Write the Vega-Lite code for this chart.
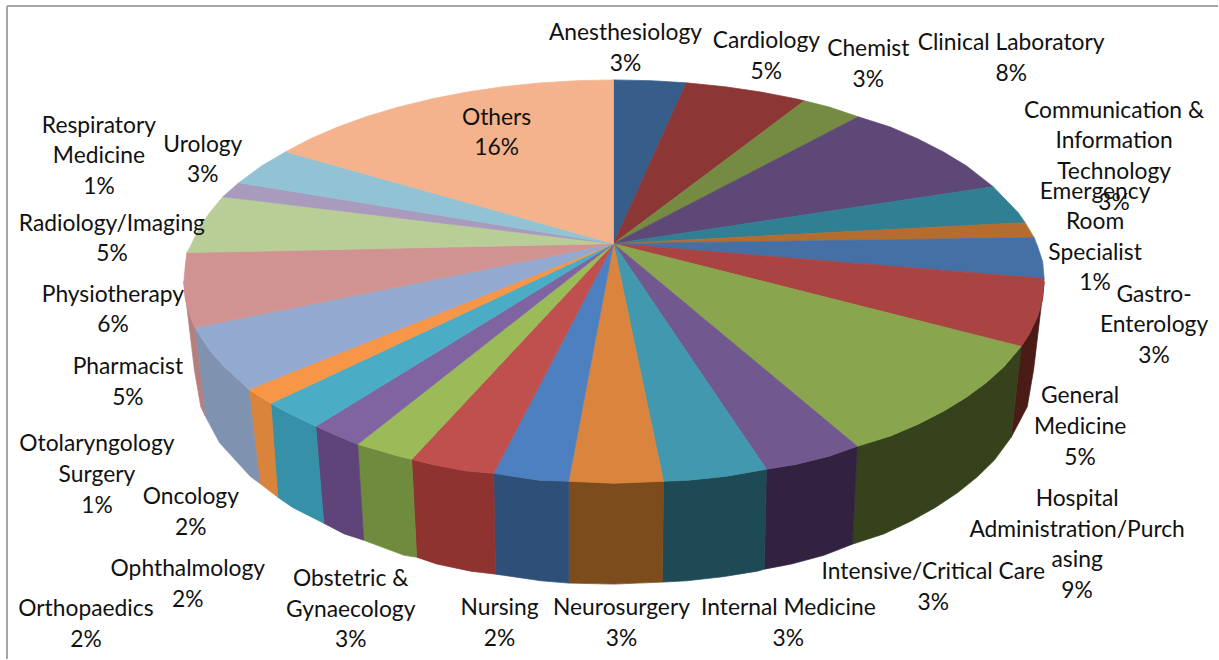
{
"$schema":"https://vega.github.io/schema/vega-lite/v6.json",
"width":1219,"height":660,"padding":0,"autosize":{"type":"fit","contains":"padding"},
"background":"white","config":{"view":{"stroke":null}},
"datasets":{
"frame":[{"x":7,"y":6,"x2":1219,"y2":6},{"x":7,"y":6,"x2":7,"y2":660}],
"side":[
{"s":"General Medicine","x":1045,"y":282},{"s":"General Medicine","x":1043.4,"y":299.6},{"s":"General Medicine","x":1038.5,"y":317.1},{"s":"General Medicine","x":1030.3,"y":334.3},{"s":"General Medicine","x":1022,"y":347},{"s":"General Medicine","x":1012,"y":438},{"s":"General Medicine","x":1028.1,"y":407.3},{"s":"General Medicine","x":1034.5,"y":370},
{"s":"Hospital","x":1022,"y":347},{"s":"Hospital","x":1004.7,"y":367.4},{"s":"Hospital","x":987.3,"y":383},{"s":"Hospital","x":967.2,"y":397.9},{"s":"Hospital","x":944.3,"y":411.8},{"s":"Hospital","x":918.9,"y":424.8},{"s":"Hospital","x":891.2,"y":436.7},{"s":"Hospital","x":858,"y":447},{"s":"Hospital","x":853,"y":545},{"s":"Hospital","x":884.5,"y":534.7},{"s":"Hospital","x":911.5,"y":522},{"s":"Hospital","x":936.2,"y":508.2},{"s":"Hospital","x":958.6,"y":493.3},{"s":"Hospital","x":978.2,"y":477.5},{"s":"Hospital","x":995.1,"y":460.9},{"s":"Hospital","x":1012,"y":438},
{"s":"Intensive","x":858,"y":447},{"s":"Intensive","x":829.8,"y":456.9},{"s":"Intensive","x":796.4,"y":465.1},{"s":"Intensive","x":767,"y":470},{"s":"Intensive","x":765,"y":570},{"s":"Intensive","x":792,"y":564.9},{"s":"Intensive","x":824.5,"y":556.2},{"s":"Intensive","x":853,"y":545},
{"s":"Internal","x":767,"y":470},{"s":"Internal","x":725.9,"y":477.1},{"s":"Internal","x":689.3,"y":480.9},{"s":"Internal","x":664,"y":482},{"s":"Internal","x":663,"y":583},{"s":"Internal","x":687.4,"y":581.7},{"s":"Internal","x":723.2,"y":577.7},{"s":"Internal","x":758.1,"y":572},{"s":"Internal","x":765,"y":570},
{"s":"Neurosurgery","x":664,"y":482},{"s":"Neurosurgery","x":614.5,"y":484},{"s":"Neurosurgery","x":569,"y":482},{"s":"Neurosurgery","x":569,"y":584},{"s":"Neurosurgery","x":614.5,"y":585},{"s":"Neurosurgery","x":663,"y":583},
{"s":"Nursing","x":569,"y":482},{"s":"Nursing","x":539.7,"y":480.9},{"s":"Nursing","x":494,"y":474},{"s":"Nursing","x":496,"y":575},{"s":"Nursing","x":541.6,"y":581.7},{"s":"Nursing","x":569,"y":584},
{"s":"Obstetric","x":494,"y":474},{"s":"Obstetric","x":467.3,"y":471.8},{"s":"Obstetric","x":432.6,"y":465.1},{"s":"Obstetric","x":412,"y":460},{"s":"Obstetric","x":417,"y":558},{"s":"Obstetric","x":437,"y":564.9},{"s":"Obstetric","x":470.9,"y":572},{"s":"Obstetric","x":496,"y":575},
{"s":"Oncology","x":412,"y":460},{"s":"Oncology","x":399.2,"y":456.9},{"s":"Oncology","x":358,"y":445},{"s":"Oncology","x":364,"y":541},{"s":"Oncology","x":404.5,"y":556.2},{"s":"Oncology","x":417,"y":558},
{"s":"Ophthalmology","x":358,"y":445},{"s":"Ophthalmology","x":337.8,"y":436.7},{"s":"Ophthalmology","x":316,"y":427},{"s":"Ophthalmology","x":324,"y":524},{"s":"Ophthalmology","x":344.5,"y":534.7},{"s":"Ophthalmology","x":364,"y":541},
{"s":"Orthopaedics","x":316,"y":427},{"s":"Orthopaedics","x":284.7,"y":411.8},{"s":"Orthopaedics","x":271,"y":404},{"s":"Orthopaedics","x":278,"y":498},{"s":"Orthopaedics","x":292.8,"y":508.2},{"s":"Orthopaedics","x":324,"y":524},
{"s":"Otolaryngology","x":271,"y":404},{"s":"Otolaryngology","x":249,"y":390},{"s":"Otolaryngology","x":260,"y":484},{"s":"Otolaryngology","x":278,"y":498},
{"s":"Pharmacist","x":249,"y":390},{"s":"Pharmacist","x":241.7,"y":383},{"s":"Pharmacist","x":224.3,"y":367.4},{"s":"Pharmacist","x":210,"y":351.1},{"s":"Pharmacist","x":195,"y":328},{"s":"Pharmacist","x":205,"y":416},{"s":"Pharmacist","x":219.8,"y":443.5},{"s":"Pharmacist","x":250.8,"y":477.5},{"s":"Pharmacist","x":260,"y":484},
{"s":"Physiotherapy","x":195,"y":328},{"s":"Physiotherapy","x":190.5,"y":317.1},{"s":"Physiotherapy","x":185.6,"y":299.6},{"s":"Physiotherapy","x":184,"y":282},{"s":"Physiotherapy","x":194.5,"y":370},{"s":"Physiotherapy","x":200.9,"y":407.3},{"s":"Physiotherapy","x":205,"y":416}
],
"top":[
{"s":"Anesthesiology","x":614,"y":244},{"s":"Anesthesiology","x":614,"y":80},{"s":"Anesthesiology","x":652,"y":80.8},{"s":"Anesthesiology","x":687,"y":83},
{"s":"Cardiology","x":614,"y":244},{"s":"Cardiology","x":687,"y":83},{"s":"Cardiology","x":725.9,"y":86.9},{"s":"Cardiology","x":761.7,"y":92.2},{"s":"Cardiology","x":796.4,"y":98.9},{"s":"Cardiology","x":805,"y":101},
{"s":"Chemist","x":614,"y":244},{"s":"Chemist","x":805,"y":101},{"s":"Chemist","x":829.8,"y":107.1},{"s":"Chemist","x":859,"y":117},
{"s":"Clinical","x":614,"y":244},{"s":"Clinical","x":859,"y":117},{"s":"Clinical","x":891.2,"y":127.3},{"s":"Clinical","x":918.9,"y":139.2},{"s":"Clinical","x":944.3,"y":152.2},{"s":"Clinical","x":967.2,"y":166.1},{"s":"Clinical","x":994,"y":187},
{"s":"Communication","x":614,"y":244},{"s":"Communication","x":994,"y":187},{"s":"Communication","x":1019,"y":212.9},{"s":"Communication","x":1026,"y":223},
{"s":"Emergency","x":614,"y":244},{"s":"Emergency","x":1026,"y":223},{"s":"Emergency","x":1035,"y":238},
{"s":"Gastro","x":614,"y":244},{"s":"Gastro","x":1035,"y":238},{"s":"Gastro","x":1038.5,"y":246.9},{"s":"Gastro","x":1043.5,"y":262},{"s":"Gastro","x":1045,"y":279},
{"s":"General Medicine","x":614,"y":244},{"s":"General Medicine","x":1045,"y":279},{"s":"General Medicine","x":1043.4,"y":299.6},{"s":"General Medicine","x":1038.5,"y":317.1},{"s":"General Medicine","x":1030.3,"y":334.3},{"s":"General Medicine","x":1022,"y":347},
{"s":"Hospital","x":614,"y":244},{"s":"Hospital","x":1022,"y":347},{"s":"Hospital","x":1004.7,"y":367.4},{"s":"Hospital","x":987.3,"y":383},{"s":"Hospital","x":967.2,"y":397.9},{"s":"Hospital","x":944.3,"y":411.8},{"s":"Hospital","x":918.9,"y":424.8},{"s":"Hospital","x":891.2,"y":436.7},{"s":"Hospital","x":858,"y":447},
{"s":"Intensive","x":614,"y":244},{"s":"Intensive","x":858,"y":447},{"s":"Intensive","x":829.8,"y":456.9},{"s":"Intensive","x":796.4,"y":465.1},{"s":"Intensive","x":767,"y":470},
{"s":"Internal","x":614,"y":244},{"s":"Internal","x":767,"y":470},{"s":"Internal","x":725.9,"y":477.1},{"s":"Internal","x":689.3,"y":480.9},{"s":"Internal","x":664,"y":482},
{"s":"Neurosurgery","x":614,"y":244},{"s":"Neurosurgery","x":664,"y":482},{"s":"Neurosurgery","x":614.5,"y":484},{"s":"Neurosurgery","x":569,"y":482},
{"s":"Nursing","x":614,"y":244},{"s":"Nursing","x":569,"y":482},{"s":"Nursing","x":539.7,"y":480.9},{"s":"Nursing","x":494,"y":474},
{"s":"Obstetric","x":614,"y":244},{"s":"Obstetric","x":494,"y":474},{"s":"Obstetric","x":467.3,"y":471.8},{"s":"Obstetric","x":432.6,"y":465.1},{"s":"Obstetric","x":412,"y":460},
{"s":"Oncology","x":614,"y":244},{"s":"Oncology","x":412,"y":460},{"s":"Oncology","x":399.2,"y":456.9},{"s":"Oncology","x":358,"y":445},
{"s":"Ophthalmology","x":614,"y":244},{"s":"Ophthalmology","x":358,"y":445},{"s":"Ophthalmology","x":337.8,"y":436.7},{"s":"Ophthalmology","x":316,"y":427},
{"s":"Orthopaedics","x":614,"y":244},{"s":"Orthopaedics","x":316,"y":427},{"s":"Orthopaedics","x":284.7,"y":411.8},{"s":"Orthopaedics","x":271,"y":404},
{"s":"Otolaryngology","x":614,"y":244},{"s":"Otolaryngology","x":271,"y":404},{"s":"Otolaryngology","x":249,"y":390},
{"s":"Pharmacist","x":614,"y":244},{"s":"Pharmacist","x":249,"y":390},{"s":"Pharmacist","x":241.7,"y":383},{"s":"Pharmacist","x":224.3,"y":367.4},{"s":"Pharmacist","x":210,"y":351.1},{"s":"Pharmacist","x":195,"y":328},
{"s":"Physiotherapy","x":614,"y":244},{"s":"Physiotherapy","x":195,"y":328},{"s":"Physiotherapy","x":190.5,"y":317.1},{"s":"Physiotherapy","x":185.6,"y":299.6},{"s":"Physiotherapy","x":184,"y":282},{"s":"Physiotherapy","x":185.6,"y":264.4},{"s":"Physiotherapy","x":187,"y":253},
{"s":"Radiology","x":614,"y":244},{"s":"Radiology","x":187,"y":253},{"s":"Radiology","x":190.5,"y":246.9},{"s":"Radiology","x":198.7,"y":229.7},{"s":"Radiology","x":210,"y":212.9},{"s":"Radiology","x":223,"y":197},
{"s":"Respiratory","x":614,"y":244},{"s":"Respiratory","x":223,"y":197},{"s":"Respiratory","x":239,"y":183},
{"s":"Urology","x":614,"y":244},{"s":"Urology","x":239,"y":183},{"s":"Urology","x":241.7,"y":181},{"s":"Urology","x":262,"y":166},{"s":"Urology","x":286,"y":152},
{"s":"Others","x":614,"y":244},{"s":"Others","x":286,"y":152},{"s":"Others","x":310.1,"y":139.2},{"s":"Others","x":337.8,"y":127.3},{"s":"Others","x":367.6,"y":116.5},{"s":"Others","x":399.2,"y":107.1},{"s":"Others","x":432.6,"y":98.9},{"s":"Others","x":467.3,"y":92.2},{"s":"Others","x":503.1,"y":86.9},{"s":"Others","x":539.7,"y":83.1},{"s":"Others","x":577,"y":80.8},{"s":"Others","x":614,"y":80}
],
"labels":[
{"t":"Anesthesiology\n3%","x":626,"y":40},
{"t":"Cardiology\n5%","x":767,"y":48},
{"t":"Chemist\n3%","x":869,"y":56},
{"t":"Clinical Laboratory\n8%","x":1012,"y":50},
{"t":"Communication &\nInformation\nTechnology\n3%","x":1115,"y":118},
{"t":"Emergency\nRoom\nSpecialist\n1%","x":1096,"y":199},
{"t":"Gastro-\nEnterology\n3%","x":1155,"y":302},
{"t":"General\nMedicine\n5%","x":1081,"y":404},
{"t":"Hospital\nAdministration/Purch\nasing\n9%","x":1078,"y":507},
{"t":"Intensive/Critical Care\n3%","x":934,"y":580},
{"t":"Internal Medicine\n3%","x":789,"y":616},
{"t":"Neurosurgery\n3%","x":622,"y":616},
{"t":"Nursing\n2%","x":500,"y":616},
{"t":"Obstetric &\nGynaecology\n3%","x":351,"y":587},
{"t":"Oncology\n2%","x":191,"y":505},
{"t":"Ophthalmology\n2%","x":188,"y":577},
{"t":"Orthopaedics\n2%","x":86,"y":617},
{"t":"Otolaryngology\nSurgery\n1%","x":97,"y":452},
{"t":"Pharmacist\n5%","x":128,"y":375},
{"t":"Physiotherapy\n6%","x":113,"y":302},
{"t":"Radiology/Imaging\n5%","x":112,"y":231},
{"t":"Respiratory\nMedicine\n1%","x":99,"y":133},
{"t":"Urology\n3%","x":203,"y":152},
{"t":"Others\n16%","x":497,"y":125}
]
},
"layer":[
{"data":{"name":"frame"},"mark":{"type":"rule","color":"#A6A6A6","strokeWidth":2},
 "encoding":{"x":{"field":"x","type":"quantitative","scale":{"domain":[0,1219],"nice":false,"zero":false},"axis":null},"y":{"field":"y","type":"quantitative","scale":{"domain":[660,0],"nice":false,"zero":false},"axis":null},"x2":{"field":"x2"},"y2":{"field":"y2"}}},
{"data":{"name":"side"},"mark":{"type":"line","interpolate":"linear-closed","order":false,"strokeWidth":0.7},
 "encoding":{"x":{"field":"x","type":"quantitative","scale":{"domain":[0,1219],"nice":false,"zero":false},"axis":null},"y":{"field":"y","type":"quantitative","scale":{"domain":[660,0],"nice":false,"zero":false},"axis":null},
 "fill":{"field":"s","type":"nominal","legend":null,"scale":{"domain":["General Medicine","Hospital","Intensive","Internal","Neurosurgery","Nursing","Obstetric","Oncology","Ophthalmology","Orthopaedics","Otolaryngology","Pharmacist","Physiotherapy"],"range":["#4A1B17","#36421C","#32213F","#1E4A55","#7C4C1D","#2E5078","#8E3330","#6F8C3E","#5E4478","#3690A8","#D9843A","#7F92B0","#B57F7E"]}},
 "stroke":{"field":"s","type":"nominal","legend":null,"scale":{"domain":["General Medicine","Hospital","Intensive","Internal","Neurosurgery","Nursing","Obstetric","Oncology","Ophthalmology","Orthopaedics","Otolaryngology","Pharmacist","Physiotherapy"],"range":["#4A1B17","#36421C","#32213F","#1E4A55","#7C4C1D","#2E5078","#8E3330","#6F8C3E","#5E4478","#3690A8","#D9843A","#7F92B0","#B57F7E"]}}}},
{"data":{"name":"top"},"mark":{"type":"line","interpolate":"linear-closed","order":false,"strokeWidth":0.7},
 "encoding":{"x":{"field":"x","type":"quantitative","scale":{"domain":[0,1219],"nice":false,"zero":false},"axis":null},"y":{"field":"y","type":"quantitative","scale":{"domain":[660,0],"nice":false,"zero":false},"axis":null},
 "fill":{"field":"s","type":"nominal","legend":null,"scale":{"domain":["Anesthesiology","Cardiology","Chemist","Clinical","Communication","Emergency","Gastro","General Medicine","Hospital","Intensive","Internal","Neurosurgery","Nursing","Obstetric","Oncology","Ophthalmology","Orthopaedics","Otolaryngology","Pharmacist","Physiotherapy","Radiology","Respiratory","Urology","Others"],"range":["#375E8A","#8C3735","#748B41","#5E4878","#317F92","#B56D2F","#4570A6","#A94442","#89A54E","#71588F","#4198AF","#DB843D","#4C80C0","#C0504D","#9BBB59","#8064A2","#4BACC6","#F79646","#93A9CF","#D19392","#B9CD96","#A99BBD","#91C3D5","#F4B38D"]}},
 "stroke":{"field":"s","type":"nominal","legend":null,"scale":{"domain":["Anesthesiology","Cardiology","Chemist","Clinical","Communication","Emergency","Gastro","General Medicine","Hospital","Intensive","Internal","Neurosurgery","Nursing","Obstetric","Oncology","Ophthalmology","Orthopaedics","Otolaryngology","Pharmacist","Physiotherapy","Radiology","Respiratory","Urology","Others"],"range":["#375E8A","#8C3735","#748B41","#5E4878","#317F92","#B56D2F","#4570A6","#A94442","#89A54E","#71588F","#4198AF","#DB843D","#4C80C0","#C0504D","#9BBB59","#8064A2","#4BACC6","#F79646","#93A9CF","#D19392","#B9CD96","#A99BBD","#91C3D5","#F4B38D"]}}}},
{"data":{"name":"labels"},"mark":{"type":"text","font":"Lato","fontSize":22.8,"color":"#111111","align":"center","baseline":"alphabetic","lineBreak":"\n","lineHeight":30.6},
 "encoding":{"x":{"field":"x","type":"quantitative","scale":{"domain":[0,1219],"nice":false,"zero":false},"axis":null},"y":{"field":"y","type":"quantitative","scale":{"domain":[660,0],"nice":false,"zero":false},"axis":null},"text":{"field":"t","type":"nominal"}}}
],
"resolve":{"scale":{"fill":"independent","stroke":"independent"}}
}
